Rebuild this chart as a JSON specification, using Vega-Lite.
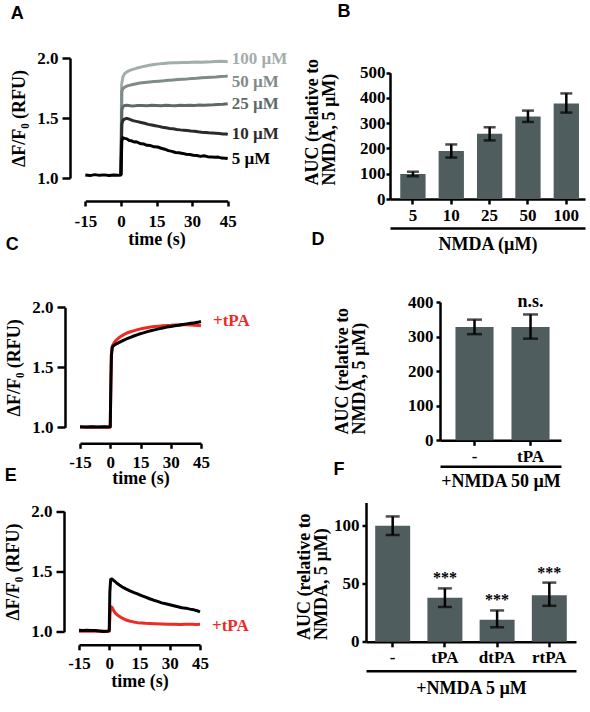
{
"$schema": "https://vega.github.io/schema/vega-lite/v6.json",
"background": "white",
"padding": {"left": 4, "top": 3, "right": 2, "bottom": 2},
"config": {
 "view": {"stroke": null},
 "font": "Liberation Serif",
 "axis": {"domainColor": "black", "domainWidth": 2.5, "tickColor": "black", "tickWidth": 2.5, "labelFont": "Liberation Serif", "labelFontSize": 17, "labelFontWeight": "bold", "labelColor": "black", "titleFont": "Liberation Serif", "titleFontSize": 18, "titleFontWeight": "bold", "titleColor": "black", "grid": false, "labelFlush": false, "labelOverlap": false, "titleLineHeight": 17},
 "title": {"font": "Liberation Sans", "fontSize": 18, "fontWeight": "bold", "color": "black", "anchor": "start", "frame": "bounds"},
 "text": {"font": "Liberation Serif", "fontWeight": "bold", "fontSize": 17}
},
"datasets": {
 "traceA": [
  {"s":"100 µM","t":0,"v":1.025},{"s":"100 µM","t":0.3,"v":1.78},{"s":"100 µM","t":0.8,"v":1.84},{"s":"100 µM","t":1.5,"v":1.868},{"s":"100 µM","t":2.5,"v":1.885},{"s":"100 µM","t":3.5,"v":1.895},{"s":"100 µM","t":5,"v":1.905},{"s":"100 µM","t":6.5,"v":1.914},{"s":"100 µM","t":8,"v":1.922},{"s":"100 µM","t":10,"v":1.932},{"s":"100 µM","t":12,"v":1.94},{"s":"100 µM","t":14,"v":1.946},{"s":"100 µM","t":16,"v":1.951},{"s":"100 µM","t":18,"v":1.955},{"s":"100 µM","t":20,"v":1.958},{"s":"100 µM","t":22,"v":1.96},{"s":"100 µM","t":24,"v":1.961},{"s":"100 µM","t":26,"v":1.962},{"s":"100 µM","t":28,"v":1.963},{"s":"100 µM","t":30,"v":1.965},{"s":"100 µM","t":32,"v":1.966},{"s":"100 µM","t":34,"v":1.965},{"s":"100 µM","t":36,"v":1.967},{"s":"100 µM","t":38,"v":1.968},{"s":"100 µM","t":40,"v":1.97},{"s":"100 µM","t":42,"v":1.972},{"s":"100 µM","t":44,"v":1.97},{"s":"100 µM","t":45,"v":1.969},
  {"s":"50 µM","t":0,"v":1.025},{"s":"50 µM","t":0.4,"v":1.72},{"s":"50 µM","t":0.9,"v":1.748},{"s":"50 µM","t":1.6,"v":1.757},{"s":"50 µM","t":2.5,"v":1.765},{"s":"50 µM","t":3.5,"v":1.772},{"s":"50 µM","t":5,"v":1.779},{"s":"50 µM","t":6.5,"v":1.786},{"s":"50 µM","t":8,"v":1.791},{"s":"50 µM","t":10,"v":1.796},{"s":"50 µM","t":12,"v":1.8},{"s":"50 µM","t":14,"v":1.804},{"s":"50 µM","t":16,"v":1.807},{"s":"50 µM","t":18,"v":1.81},{"s":"50 µM","t":20,"v":1.814},{"s":"50 µM","t":22,"v":1.817},{"s":"50 µM","t":24,"v":1.82},{"s":"50 µM","t":26,"v":1.823},{"s":"50 µM","t":28,"v":1.826},{"s":"50 µM","t":30,"v":1.83},{"s":"50 µM","t":32,"v":1.832},{"s":"50 µM","t":34,"v":1.835},{"s":"50 µM","t":36,"v":1.838},{"s":"50 µM","t":38,"v":1.84},{"s":"50 µM","t":40,"v":1.842},{"s":"50 µM","t":42,"v":1.845},{"s":"50 µM","t":44,"v":1.848},{"s":"50 µM","t":45,"v":1.85},
  {"s":"25 µM","t":0,"v":1.025},{"s":"25 µM","t":0.4,"v":1.57},{"s":"25 µM","t":0.9,"v":1.595},{"s":"25 µM","t":1.6,"v":1.604},{"s":"25 µM","t":2.5,"v":1.607},{"s":"25 µM","t":4,"v":1.603},{"s":"25 µM","t":5.5,"v":1.601},{"s":"25 µM","t":7,"v":1.605},{"s":"25 µM","t":9,"v":1.604},{"s":"25 µM","t":11,"v":1.602},{"s":"25 µM","t":13,"v":1.606},{"s":"25 µM","t":15,"v":1.605},{"s":"25 µM","t":17,"v":1.602},{"s":"25 µM","t":19,"v":1.606},{"s":"25 µM","t":21,"v":1.604},{"s":"25 µM","t":23,"v":1.603},{"s":"25 µM","t":25,"v":1.606},{"s":"25 µM","t":27,"v":1.604},{"s":"25 µM","t":29,"v":1.607},{"s":"25 µM","t":31,"v":1.605},{"s":"25 µM","t":33,"v":1.608},{"s":"25 µM","t":35,"v":1.606},{"s":"25 µM","t":37,"v":1.609},{"s":"25 µM","t":39,"v":1.61},{"s":"25 µM","t":41,"v":1.612},{"s":"25 µM","t":43,"v":1.614},{"s":"25 µM","t":45,"v":1.619},
  {"s":"10 µM","t":0,"v":1.025},{"s":"10 µM","t":0.4,"v":1.45},{"s":"10 µM","t":0.9,"v":1.482},{"s":"10 µM","t":1.6,"v":1.492},{"s":"10 µM","t":2.5,"v":1.497},{"s":"10 µM","t":3.5,"v":1.49},{"s":"10 µM","t":4.5,"v":1.483},{"s":"10 µM","t":5.5,"v":1.476},{"s":"10 µM","t":7,"v":1.47},{"s":"10 µM","t":8.5,"v":1.463},{"s":"10 µM","t":10,"v":1.456},{"s":"10 µM","t":11.5,"v":1.447},{"s":"10 µM","t":13,"v":1.442},{"s":"10 µM","t":14.5,"v":1.436},{"s":"10 µM","t":16,"v":1.43},{"s":"10 µM","t":17.5,"v":1.423},{"s":"10 µM","t":19,"v":1.418},{"s":"10 µM","t":20.5,"v":1.413},{"s":"10 µM","t":22,"v":1.41},{"s":"10 µM","t":23.5,"v":1.405},{"s":"10 µM","t":25,"v":1.401},{"s":"10 µM","t":26.5,"v":1.398},{"s":"10 µM","t":28,"v":1.395},{"s":"10 µM","t":29.5,"v":1.391},{"s":"10 µM","t":31,"v":1.389},{"s":"10 µM","t":32.5,"v":1.385},{"s":"10 µM","t":34,"v":1.382},{"s":"10 µM","t":35.5,"v":1.38},{"s":"10 µM","t":37,"v":1.377},{"s":"10 µM","t":38.5,"v":1.375},{"s":"10 µM","t":40,"v":1.373},{"s":"10 µM","t":41.5,"v":1.37},{"s":"10 µM","t":43,"v":1.367},{"s":"10 µM","t":44.5,"v":1.366},{"s":"10 µM","t":45,"v":1.363},
  {"s":"5 µM","t":-15,"v":1.025},{"s":"5 µM","t":-13,"v":1.02},{"s":"5 µM","t":-11,"v":1.028},{"s":"5 µM","t":-9,"v":1.022},{"s":"5 µM","t":-7,"v":1.026},{"s":"5 µM","t":-5,"v":1.02},{"s":"5 µM","t":-3,"v":1.025},{"s":"5 µM","t":-1,"v":1.022},{"s":"5 µM","t":0,"v":1.025},{"s":"5 µM","t":0.4,"v":1.31},{"s":"5 µM","t":0.9,"v":1.335},{"s":"5 µM","t":1.6,"v":1.33},{"s":"5 µM","t":2.5,"v":1.326},{"s":"5 µM","t":3.5,"v":1.312},{"s":"5 µM","t":4.5,"v":1.31},{"s":"5 µM","t":5.5,"v":1.3},{"s":"5 µM","t":6.5,"v":1.302},{"s":"5 µM","t":8,"v":1.288},{"s":"5 µM","t":9.5,"v":1.284},{"s":"5 µM","t":11,"v":1.272},{"s":"5 µM","t":12.5,"v":1.27},{"s":"5 µM","t":14,"v":1.26},{"s":"5 µM","t":15.5,"v":1.258},{"s":"5 µM","t":17,"v":1.248},{"s":"5 µM","t":18.5,"v":1.24},{"s":"5 µM","t":20,"v":1.228},{"s":"5 µM","t":21.5,"v":1.222},{"s":"5 µM","t":23,"v":1.213},{"s":"5 µM","t":24.5,"v":1.21},{"s":"5 µM","t":26,"v":1.205},{"s":"5 µM","t":27.5,"v":1.198},{"s":"5 µM","t":29,"v":1.195},{"s":"5 µM","t":30.5,"v":1.19},{"s":"5 µM","t":32,"v":1.187},{"s":"5 µM","t":33.5,"v":1.18},{"s":"5 µM","t":35,"v":1.186},{"s":"5 µM","t":36.5,"v":1.178},{"s":"5 µM","t":38,"v":1.176},{"s":"5 µM","t":39.5,"v":1.172},{"s":"5 µM","t":41,"v":1.174},{"s":"5 µM","t":42.5,"v":1.166},{"s":"5 µM","t":44,"v":1.165},{"s":"5 µM","t":45,"v":1.162}
 ],
 "labelA": [
  {"s":"100 µM","t":45,"v":1.995},{"s":"50 µM","t":45,"v":1.8},{"s":"25 µM","t":45,"v":1.62},{"s":"10 µM","t":45,"v":1.367},{"s":"5 µM","t":45,"v":1.158}
 ],
 "traceC": [
  {"s":"tPA","t":-15,"v":1.0},{"s":"tPA","t":-12,"v":1.0},{"s":"tPA","t":-9,"v":1.002},{"s":"tPA","t":-6,"v":1.0},{"s":"tPA","t":-3,"v":1.002},{"s":"tPA","t":0,"v":1.0},{"s":"tPA","t":0.5,"v":1.6},{"s":"tPA","t":1,"v":1.675},{"s":"tPA","t":2,"v":1.708},{"s":"tPA","t":3,"v":1.727},{"s":"tPA","t":4,"v":1.742},{"s":"tPA","t":5,"v":1.755},{"s":"tPA","t":6.5,"v":1.77},{"s":"tPA","t":8,"v":1.784},{"s":"tPA","t":10,"v":1.796},{"s":"tPA","t":12,"v":1.806},{"s":"tPA","t":14,"v":1.816},{"s":"tPA","t":16,"v":1.824},{"s":"tPA","t":18,"v":1.83},{"s":"tPA","t":20,"v":1.836},{"s":"tPA","t":22,"v":1.84},{"s":"tPA","t":24,"v":1.843},{"s":"tPA","t":26,"v":1.846},{"s":"tPA","t":28,"v":1.848},{"s":"tPA","t":30,"v":1.85},{"s":"tPA","t":32,"v":1.853},{"s":"tPA","t":34,"v":1.855},{"s":"tPA","t":36,"v":1.856},{"s":"tPA","t":38,"v":1.855},{"s":"tPA","t":40,"v":1.853},{"s":"tPA","t":42,"v":1.851},{"s":"tPA","t":44,"v":1.849},{"s":"tPA","t":45,"v":1.847},
  {"s":"ctrl","t":-15,"v":1.004},{"s":"ctrl","t":-12,"v":1.003},{"s":"ctrl","t":-9,"v":1.005},{"s":"ctrl","t":-6,"v":1.002},{"s":"ctrl","t":-3,"v":1.004},{"s":"ctrl","t":-1,"v":1.003},{"s":"ctrl","t":0,"v":1.004},{"s":"ctrl","t":0.3,"v":1.35},{"s":"ctrl","t":0.6,"v":1.6},{"s":"ctrl","t":1,"v":1.665},{"s":"ctrl","t":1.6,"v":1.68},{"s":"ctrl","t":2.5,"v":1.69},{"s":"ctrl","t":3.5,"v":1.699},{"s":"ctrl","t":5,"v":1.712},{"s":"ctrl","t":6.5,"v":1.724},{"s":"ctrl","t":8,"v":1.736},{"s":"ctrl","t":10,"v":1.75},{"s":"ctrl","t":12,"v":1.763},{"s":"ctrl","t":14,"v":1.775},{"s":"ctrl","t":16,"v":1.785},{"s":"ctrl","t":18,"v":1.795},{"s":"ctrl","t":20,"v":1.804},{"s":"ctrl","t":22,"v":1.812},{"s":"ctrl","t":24,"v":1.82},{"s":"ctrl","t":26,"v":1.828},{"s":"ctrl","t":28,"v":1.835},{"s":"ctrl","t":30,"v":1.84},{"s":"ctrl","t":32,"v":1.846},{"s":"ctrl","t":34,"v":1.851},{"s":"ctrl","t":36,"v":1.857},{"s":"ctrl","t":38,"v":1.862},{"s":"ctrl","t":40,"v":1.867},{"s":"ctrl","t":42,"v":1.872},{"s":"ctrl","t":44,"v":1.878},{"s":"ctrl","t":45,"v":1.882}
 ],
 "labelC": [{"lab":"+tPA","t":45,"v":1.89}],
 "traceE": [
  {"s":"tPA","t":-15,"v":1.005},{"s":"tPA","t":-10,"v":1.004},{"s":"tPA","t":-5,"v":1.006},{"s":"tPA","t":0,"v":1.005},{"s":"tPA","t":0.4,"v":1.15},{"s":"tPA","t":0.9,"v":1.208},{"s":"tPA","t":1.5,"v":1.2},{"s":"tPA","t":2.2,"v":1.175},{"s":"tPA","t":3,"v":1.155},{"s":"tPA","t":4,"v":1.14},{"s":"tPA","t":5,"v":1.128},{"s":"tPA","t":6.5,"v":1.113},{"s":"tPA","t":8,"v":1.1},{"s":"tPA","t":10,"v":1.09},{"s":"tPA","t":12,"v":1.082},{"s":"tPA","t":14,"v":1.076},{"s":"tPA","t":16,"v":1.073},{"s":"tPA","t":18,"v":1.07},{"s":"tPA","t":20,"v":1.068},{"s":"tPA","t":23,"v":1.066},{"s":"tPA","t":26,"v":1.064},{"s":"tPA","t":29,"v":1.063},{"s":"tPA","t":32,"v":1.062},{"s":"tPA","t":35,"v":1.061},{"s":"tPA","t":38,"v":1.062},{"s":"tPA","t":41,"v":1.062},{"s":"tPA","t":43,"v":1.061},{"s":"tPA","t":45,"v":1.063},
  {"s":"ctrl","t":-15,"v":1.012},{"s":"ctrl","t":-13,"v":1.01},{"s":"ctrl","t":-11,"v":1.013},{"s":"ctrl","t":-9,"v":1.011},{"s":"ctrl","t":-7,"v":1.01},{"s":"ctrl","t":-5,"v":1.006},{"s":"ctrl","t":-3,"v":1.003},{"s":"ctrl","t":-1,"v":1.005},{"s":"ctrl","t":0,"v":1.01},{"s":"ctrl","t":0.3,"v":1.33},{"s":"ctrl","t":0.7,"v":1.435},{"s":"ctrl","t":1.3,"v":1.438},{"s":"ctrl","t":2,"v":1.428},{"s":"ctrl","t":3,"v":1.415},{"s":"ctrl","t":4,"v":1.4},{"s":"ctrl","t":5,"v":1.388},{"s":"ctrl","t":6.5,"v":1.372},{"s":"ctrl","t":8,"v":1.358},{"s":"ctrl","t":10,"v":1.342},{"s":"ctrl","t":12,"v":1.327},{"s":"ctrl","t":14,"v":1.314},{"s":"ctrl","t":16,"v":1.3},{"s":"ctrl","t":18,"v":1.287},{"s":"ctrl","t":20,"v":1.274},{"s":"ctrl","t":22,"v":1.262},{"s":"ctrl","t":24,"v":1.252},{"s":"ctrl","t":26,"v":1.24},{"s":"ctrl","t":28,"v":1.232},{"s":"ctrl","t":30,"v":1.224},{"s":"ctrl","t":32,"v":1.216},{"s":"ctrl","t":34,"v":1.208},{"s":"ctrl","t":36,"v":1.2},{"s":"ctrl","t":38,"v":1.196},{"s":"ctrl","t":40,"v":1.188},{"s":"ctrl","t":42,"v":1.182},{"s":"ctrl","t":44,"v":1.172},{"s":"ctrl","t":45,"v":1.165}
 ],
 "labelE": [{"lab":"+tPA","t":45,"v":1.047}],
 "barsB": [
  {"c":"5","m":99,"lo":90,"hi":108},{"c":"10","m":190,"lo":164,"hi":216},{"c":"25","m":258,"lo":232,"hi":284},{"c":"50","m":327,"lo":305,"hi":350},{"c":"100","m":378,"lo":342,"hi":418}
 ],
 "barsD": [
  {"c":"-","m":328,"lo":307,"hi":349,"sig":""},{"c":"tPA","m":328,"lo":294,"hi":364,"sig":"n.s."}
 ],
 "barsF": [
  {"c":"-","m":100,"lo":92,"hi":108,"sig":""},{"c":"tPA","m":38,"lo":30,"hi":46,"sig":"***"},{"c":"dtPA","m":19,"lo":12.5,"hi":27,"sig":"***"},{"c":"rtPA","m":40,"lo":31,"hi":51,"sig":"***"}
 ]
},
"spacing": -22,
"resolve": {"scale": {"color": "independent"}},
"vconcat": [
 {"spacing": 15, "resolve": {"scale": {"color": "independent"}}, "hconcat": [
  {"width": 149, "height": 120,
   "title": {"text": "A", "offset": 26},
   "layer": [
    {"data": {"name": "traceA"},
     "mark": {"type": "line", "strokeWidth": 3, "strokeJoin": "round"},
     "encoding": {
      "x": {"field": "t", "type": "quantitative", "scale": {"domain": [-15, 45], "range": [6.3, 148.7], "nice": false, "zero": false},
            "axis": {"values": [-15, 0, 15, 30, 45], "tickCount": 10, "labelOverlap": false, "labelExpr": "replace(datum.label, '\u2212', '-')", "offset": 23, "title": "time (s)", "tickSize": 5, "labelPadding": 7, "titlePadding": 1}},
      "y": {"field": "v", "type": "quantitative", "scale": {"domain": [1, 2], "nice": false, "zero": false},
            "axis": {"values": [1, 1.5, 2], "tickCount": 10, "labelOverlap": false, "format": ".1f", "offset": 9, "title": "ΔF/F₀ (RFU)", "tickSize": 8, "labelPadding": 4, "titlePadding": 8}},
      "color": {"field": "s", "type": "nominal", "legend": null,
                "scale": {"domain": ["100 µM", "50 µM", "25 µM", "10 µM", "5 µM"], "range": ["#a3adac", "#7f8b8a", "#5e6a69", "#2b2b2b", "#000000"]}}
     }},
    {"data": {"name": "labelA"},
     "mark": {"type": "text", "align": "left", "baseline": "middle", "dx": 4},
     "encoding": {
      "x": {"field": "t", "type": "quantitative"},
      "y": {"field": "v", "type": "quantitative"},
      "text": {"field": "s"},
      "color": {"field": "s", "type": "nominal", "legend": null}
     }}
   ]},
  {"width": 195, "height": 141,
   "title": {"text": "B", "offset": 37, "dx": 34},
   "data": {"name": "barsB"},
   "layer": [
    {"mark": {"type": "bar", "color": "#505d5e"},
     "encoding": {
      "x": {"field": "c", "type": "ordinal", "sort": null, "scale": {"paddingInner": 0.34, "paddingOuter": 0.2125, "align": 0.63},
            "axis": {"title": null, "labelAngle": 0, "tickSize": 5, "labelPadding": 3}},
      "y": {"field": "m", "type": "quantitative", "scale": {"domain": [0, 500], "range": [141, 14.7], "nice": false},
            "axis": {"values": [0, 100, 200, 300, 400, 500], "tickCount": 10, "labelOverlap": false, "tickSize": 4, "labelPadding": 1, "title": ["AUC (relative to", "NMDA, 5 µM)"], "titleAlign": "left", "titleY": 127, "titlePadding": 21}}
     }},
    {"mark": {"type": "rule", "strokeWidth": 2.5, "color": "black"},
     "encoding": {
      "x": {"field": "c", "type": "ordinal", "sort": null, "axis": {"orient": "bottom", "offset": 29, "labels": false, "ticks": false, "title": "NMDA (µM)", "titlePadding": 7}},
      "y": {"field": "lo", "type": "quantitative"},
      "y2": {"field": "hi"}
     }},
    {"mark": {"type": "tick", "thickness": 2.5, "size": 12, "color": "black"},
     "encoding": {"x": {"field": "c", "type": "ordinal", "sort": null, "axis": null}, "y": {"field": "lo", "type": "quantitative"}}},
    {"mark": {"type": "tick", "thickness": 2.5, "size": 12, "color": "black"},
     "encoding": {"x": {"field": "c", "type": "ordinal", "sort": null, "axis": null}, "y": {"field": "hi", "type": "quantitative"}}}
   ],
   "resolve": {"axis": {"x": "independent"}}}
 ]},
 {"spacing": -30.5, "resolve": {"scale": {"color": "independent"}}, "vconcat": [
  {"spacing": 61, "resolve": {"scale": {"color": "independent"}}, "hconcat": [
   {"width": 122, "height": 125.3,
    "title": {"text": "C", "offset": 44},
    "layer": [
     {"data": {"name": "traceC"},
      "mark": {"type": "line", "strokeWidth": 3, "strokeJoin": "round"},
      "encoding": {
       "x": {"field": "t", "type": "quantitative", "scale": {"domain": [-15, 45], "range": [1, 122], "nice": false, "zero": false},
             "axis": {"values": [-15, 0, 15, 30, 45], "tickCount": 10, "labelOverlap": false, "labelExpr": "replace(datum.label, '\u2212', '-')", "offset": 16, "title": "time (s)", "tickSize": 5, "labelPadding": 6, "titlePadding": -1}},
       "y": {"field": "v", "type": "quantitative", "scale": {"domain": [1, 2], "range": [125.3, 5.3], "nice": false, "zero": false},
             "axis": {"values": [1, 1.5, 2], "tickCount": 10, "labelOverlap": false, "format": ".1f", "offset": 14, "title": "ΔF/F₀ (RFU)", "tickSize": 8, "labelPadding": 4, "titlePadding": 8}},
       "color": {"field": "s", "type": "nominal", "legend": null, "scale": {"domain": ["tPA", "ctrl"], "range": ["#ee2a24", "#000000"]}}
      }},
     {"data": {"name": "labelC"},
      "mark": {"type": "text", "align": "left", "baseline": "middle", "dx": 12, "color": "#ee2a24"},
      "encoding": {
       "x": {"field": "t", "type": "quantitative"},
       "y": {"field": "v", "type": "quantitative"},
       "text": {"field": "lab"}
      }}
    ]},
   {"width": 121, "height": 138.3,
    "title": {"text": "D", "offset": 44, "dx": -22},
    "data": {"name": "barsD"},
    "layer": [
     {"mark": {"type": "bar", "color": "#505d5e"},
      "encoding": {
       "x": {"field": "c", "type": "ordinal", "sort": null, "scale": {"paddingInner": 0.32, "paddingOuter": 0.24, "align": 0.575},
             "axis": {"title": null, "labelAngle": 0, "tickSize": 5, "labelPadding": 3}},
       "y": {"field": "m", "type": "quantitative", "scale": {"domain": [0, 400], "nice": false},
             "axis": {"values": [0, 100, 200, 300, 400], "tickCount": 10, "labelOverlap": false, "tickSize": 4, "labelPadding": 3, "title": ["AUC (relative to", "NMDA, 5 µM)"], "titleAlign": "left", "titleY": 132, "titlePadding": 39}}
      }},
     {"mark": {"type": "rule", "strokeWidth": 2.5, "color": "black"},
      "encoding": {
       "x": {"field": "c", "type": "ordinal", "sort": null, "axis": {"orient": "bottom", "offset": 26, "labels": false, "ticks": false, "title": "+NMDA 50 µM", "titlePadding": 6}},
       "y": {"field": "lo", "type": "quantitative"},
       "y2": {"field": "hi"}
      }},
     {"mark": {"type": "tick", "thickness": 2.5, "size": 15, "color": "black"},
      "encoding": {"x": {"field": "c", "type": "ordinal", "sort": null, "axis": null}, "y": {"field": "lo", "type": "quantitative"}}},
     {"mark": {"type": "tick", "thickness": 2.5, "size": 15, "color": "black"},
      "encoding": {"x": {"field": "c", "type": "ordinal", "sort": null, "axis": null}, "y": {"field": "hi", "type": "quantitative"}}},
     {"mark": {"type": "text", "baseline": "middle", "dy": -12, "fontSize": 18},
      "encoding": {"x": {"field": "c", "type": "ordinal", "sort": null, "axis": null}, "y": {"field": "hi", "type": "quantitative"}, "text": {"field": "sig"}}}
    ],
    "resolve": {"axis": {"x": "independent"}}}
  ]},
  {"spacing": 46, "resolve": {"scale": {"color": "independent"}}, "hconcat": [
   {"width": 121, "height": 129.3,
    "title": {"text": "E", "offset": 17},
    "layer": [
     {"data": {"name": "traceE"},
      "mark": {"type": "line", "strokeWidth": 3, "strokeJoin": "round"},
      "encoding": {
       "x": {"field": "t", "type": "quantitative", "scale": {"domain": [-15, 45], "nice": false, "zero": false},
             "axis": {"values": [-15, 0, 15, 30, 45], "tickCount": 10, "labelOverlap": false, "labelExpr": "replace(datum.label, '\u2212', '-')", "offset": 13, "title": "time (s)", "tickSize": 5, "labelPadding": 6, "titlePadding": 1}},
       "y": {"field": "v", "type": "quantitative", "scale": {"domain": [1, 2], "range": [129.3, 8.7], "nice": false, "zero": false},
             "axis": {"values": [1, 1.5, 2], "tickCount": 10, "labelOverlap": false, "format": ".1f", "offset": 15, "title": "ΔF/F₀ (RFU)", "tickSize": 8, "labelPadding": 4, "titlePadding": 8}},
       "color": {"field": "s", "type": "nominal", "legend": null, "scale": {"domain": ["tPA", "ctrl"], "range": ["#ee2a24", "#000000"]}}
      }},
     {"data": {"name": "labelE"},
      "mark": {"type": "text", "align": "left", "baseline": "middle", "dx": 12, "color": "#ee2a24"},
      "encoding": {
       "x": {"field": "t", "type": "quantitative"},
       "y": {"field": "v", "type": "quantitative"},
       "text": {"field": "lab"}
      }}
    ]},
   {"width": 210, "height": 139.3,
    "title": {"text": "F", "offset": 19, "dx": 38},
    "data": {"name": "barsF"},
    "layer": [
     {"mark": {"type": "bar", "color": "#505d5e"},
      "encoding": {
       "x": {"field": "c", "type": "ordinal", "sort": null, "scale": {"paddingInner": 0.33, "paddingOuter": 0.176, "align": 0.5},
             "axis": {"title": null, "labelAngle": 0, "tickSize": 5, "labelPadding": 3}},
       "y": {"field": "m", "type": "quantitative", "scale": {"domain": [0, 120], "nice": false},
             "axis": {"values": [0, 50, 100], "tickCount": 10, "labelOverlap": false, "tickSize": 4, "labelPadding": 3, "title": ["AUC (relative to", "NMDA, 5 µM)"], "titleAlign": "left", "titleY": 137, "titlePadding": 3}}
      }},
     {"mark": {"type": "rule", "strokeWidth": 2.5, "color": "black"},
      "encoding": {
       "x": {"field": "c", "type": "ordinal", "sort": null, "axis": {"orient": "bottom", "offset": 29, "labels": false, "ticks": false, "title": "+NMDA 5 µM", "titlePadding": 9}},
       "y": {"field": "lo", "type": "quantitative"},
       "y2": {"field": "hi"}
      }},
     {"mark": {"type": "tick", "thickness": 2.5, "size": 14, "color": "black"},
      "encoding": {"x": {"field": "c", "type": "ordinal", "sort": null, "axis": null}, "y": {"field": "lo", "type": "quantitative"}}},
     {"mark": {"type": "tick", "thickness": 2.5, "size": 14, "color": "black"},
      "encoding": {"x": {"field": "c", "type": "ordinal", "sort": null, "axis": null}, "y": {"field": "hi", "type": "quantitative"}}},
     {"mark": {"type": "text", "baseline": "middle", "dy": -10, "fontSize": 16},
      "encoding": {"x": {"field": "c", "type": "ordinal", "sort": null, "axis": null}, "y": {"field": "hi", "type": "quantitative"}, "text": {"field": "sig"}}}
    ],
    "resolve": {"axis": {"x": "independent"}}}
  ]}
 ]}
]
}
